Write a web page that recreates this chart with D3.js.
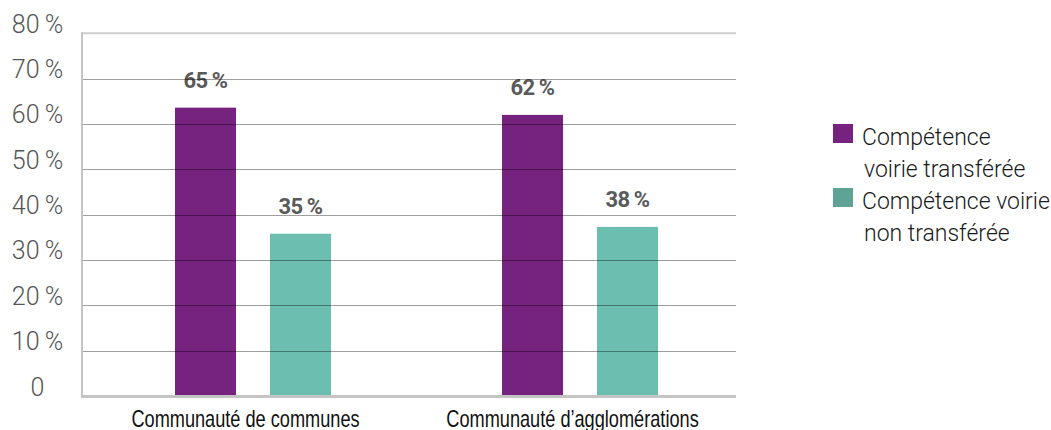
<!DOCTYPE html>
<html><head><meta charset="utf-8">
<script src="https://cdn.jsdelivr.net/npm/d3@7"></script>
<style>
html,body{margin:0;padding:0;background:#fff;}
svg{display:block;}
</style></head>
<body>
<svg id="chart" width="1051" height="430"></svg>
<script>
const categories = ["Communauté de communes", "Communauté d’agglomérations"];
const seriesNames = ["Compétence voirie transférée", "Compétence voirie non transférée"];
const transferee = [63.6, 62.0];
const nonTransferee = [35.8, 37.3];
const transfereeLabels = [65, 62];
const nonTransfereeLabels = [35, 38];
const yTicks = [0, 10, 20, 30, 40, 50, 60, 70, 80];
const colors = ["#76237f", "#6cbfb0"];
const legendSwatch = ["#76237f", "#5fa395"];

const series = [
  {name: seriesNames[0], values: transferee, labels: transfereeLabels, color: colors[0]},
  {name: seriesNames[1], values: nonTransferee, labels: nonTransfereeLabels, color: colors[1]}
];

const svg = d3.select("#chart");
const plot = {left: 82, right: 736, top: 33.3, bottom: 396};

const y = d3.scaleLinear().domain([0, 80]).range([plot.bottom, plot.top]);
const x0 = d3.scaleBand().domain(categories).range([plot.left, plot.right]).padding(0);
const x1 = d3.scaleBand().domain(seriesNames).range([93, 249]).paddingInner(0.358).paddingOuter(0);

// Y tick labels
svg.append("g").selectAll("text").data(yTicks).join("text")
  .attr("x", 37.5).attr("y", d => y(d) - 0.5)
  .attr("text-anchor", "middle")
  .style("font-family", "Roboto, 'Open Sans', sans-serif")
  .style("font-weight", 300)
  .style("font-size", "25px")
  .style("fill", "#555")
  .text(d => d === 0 ? "0" : d + "\u2009%");

// Bars
const groups = svg.append("g").selectAll("g").data(series).join("g");
groups.selectAll("rect").data(s => s.values.map((v, i) => ({v, i, s}))).join("rect")
  .attr("x", d => x0(categories[d.i]) + x1(d.s.name))
  .attr("width", x1.bandwidth())
  .attr("y", d => y(d.v))
  .attr("height", d => y(0) - y(d.v))
  .attr("fill", d => d.s.color);

// Gridlines (drawn over bars, semi-transparent)
svg.append("g").selectAll("line").data(yTicks.filter(d => d > 0 && d < 80)).join("line")
  .attr("x1", plot.left).attr("x2", plot.right)
  .attr("y1", d => Math.round(y(d)) + 0.5).attr("y2", d => Math.round(y(d)) + 0.5)
  .attr("stroke", "rgba(0,0,0,0.38)").attr("stroke-width", 1);

// Frame: top, left, bottom
svg.append("line").attr("x1", plot.left).attr("x2", plot.right)
  .attr("y1", y(80)).attr("y2", y(80))
  .attr("stroke", "#cfcfcf").attr("stroke-width", 2);
svg.append("line").attr("x1", plot.left).attr("x2", plot.left)
  .attr("y1", y(80) - 1).attr("y2", y(0) + 1.5)
  .attr("stroke", "#c4c4c4").attr("stroke-width", 2);
svg.append("line").attr("x1", plot.left - 1).attr("x2", plot.right)
  .attr("y1", y(0) + 0.5).attr("y2", y(0) + 0.5)
  .attr("stroke", "#c4c4c4").attr("stroke-width", 3);

// Value labels
groups.selectAll("text").data(s => s.values.map((v, i) => ({v, i, s}))).join("text")
  .attr("x", d => x0(categories[d.i]) + x1(d.s.name) + x1.bandwidth() / 2)
  .attr("y", d => y(d.v) - 20)
  .attr("text-anchor", "middle")
  .style("font-family", "Roboto, sans-serif")
  .style("font-weight", 700)
  .style("font-size", "22px")
  .style("letter-spacing", "-0.5px")
  .style("fill", "#5a5a5a")
  .text(d => d.s.labels[d.i] + "\u2009%");

// X category labels (condensed look via horizontal scaling)
const xScaleText = 0.79;
svg.append("g").selectAll("text").data(categories).join("text")
  .attr("transform", d => `translate(${x0(d) + x0.bandwidth() / 2},427) scale(${xScaleText},1)`)
  .attr("text-anchor", "middle")
  .style("font-family", "'Liberation Sans', Arial, sans-serif")
  .style("font-size", "23px")
  .style("fill", "#111")
  .text(d => d);

// Legend
const legendLines = [["Compétence", "voirie transférée"], ["Compétence voirie", "non transférée"]];
const lg = svg.append("g").selectAll("g").data(series).join("g")
  .attr("transform", (d, i) => `translate(833, ${124 + i * 64})`);
lg.append("rect").attr("width", 20).attr("height", 19).attr("fill", (d, i) => legendSwatch[i]);
const lt = lg.append("text")
  .style("font-family", "Roboto, sans-serif")
  .style("font-weight", 300)
  .style("font-size", "23px")
  .style("fill", "#1a1a1a");
lt.selectAll("tspan").data((d, i) => legendLines[i]).join("tspan")
  .attr("x", (d, j) => j === 0 ? 29 : 31)
  .attr("y", (d, j) => 21 + j * 31.5)
  .text(d => d);
</script>
</body></html>
